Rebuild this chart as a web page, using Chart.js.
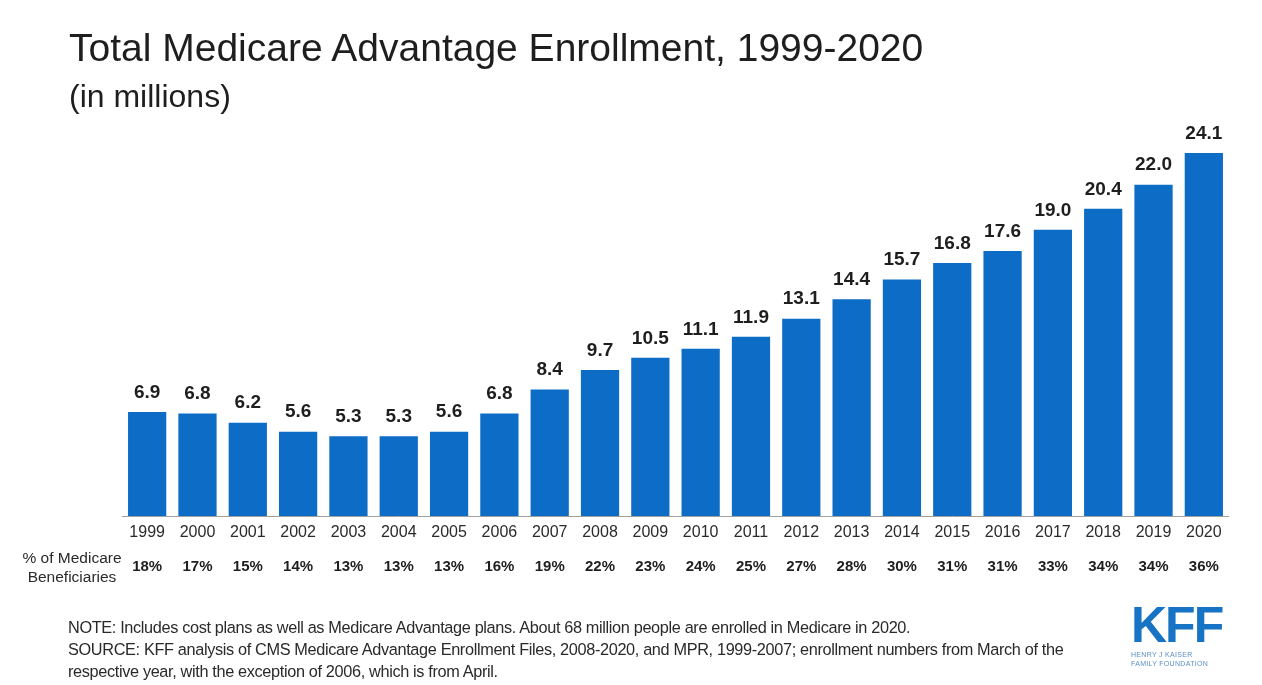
<!DOCTYPE html>
<html>
<head>
<meta charset="utf-8">
<script src="https://cdn.jsdelivr.net/npm/chart.js@4.4.1/dist/chart.umd.min.js"></script>
<style>
    html, body {
        margin: 0;
        padding: 0;
        background: #ffffff;
    }

    #wrap {
        position: relative;
        width: 1262px;
        height: 685px;
        overflow: hidden;
        font-family: "Liberation Sans", Arial, sans-serif;
        color: #1e1e1e;
    }

    #chart {
        position: absolute;
        left: 0;
        top: 0;
    }

    .title {
        position: absolute;
        left: 69px;
        top: 26px;
        font-size: 39px;
        white-space: nowrap;
    }

    .subtitle {
        position: absolute;
        left: 69px;
        top: 78px;
        font-size: 32px;
        white-space: nowrap;
    }

    .notes {
        position: absolute;
        left: 68px;
        top: 616px;
        font-size: 16.3px;
        line-height: 22px;
        color: #2a2a2a;
        letter-spacing: -0.35px;
    }

    .notes div {
        white-space: nowrap;
    }

    .logo {
        position: absolute;
        left: 1131px;
        top: 600px;
        color: #1773c4;
    }

    .logo .kff {
        font-size: 50px;
        font-weight: bold;
        letter-spacing: -2px;
        line-height: 50px;
    }

    .logo .small {
        font-size: 7px;
        line-height: 9px;
        color: #5b8fc4;
        letter-spacing: 0.3px;
    }
</style>
</head>
<body>
<div id="wrap">
    <canvas id="chart" width="1262" height="685"></canvas>

    <div class="title">Total Medicare Advantage Enrollment, 1999-2020</div>
    <div class="subtitle">(in millions)</div>

    <div class="notes">
        <div>NOTE: Includes  cost plans as well as Medicare Advantage plans. About 68 million people are enrolled in Medicare in 2020.</div>
        <div>SOURCE: KFF analysis of CMS Medicare Advantage Enrollment Files, 2008-2020, and MPR, 1999-2007; enrollment numbers from March of the</div>
        <div>respective year, with the exception of 2006, which is from April.</div>
    </div>

    <div class="logo">
        <div class="kff">KFF</div>
        <div class="small">HENRY J KAISER<br>FAMILY FOUNDATION</div>
    </div>
</div>

<script>
const anos = [
    "1999", "2000", "2001", "2002", "2003", "2004", "2005", "2006",
    "2007", "2008", "2009", "2010", "2011", "2012", "2013", "2014",
    "2015", "2016", "2017", "2018", "2019", "2020"
];

const inscritos = [
    6.9, 6.8, 6.2, 5.6, 5.3, 5.3, 5.6, 6.8,
    8.4, 9.7, 10.5, 11.1, 11.9, 13.1, 14.4, 15.7,
    16.8, 17.6, 19.0, 20.4, 22.0, 24.1
];

const percentuais = [
    18, 17, 15, 14, 13, 13, 13, 16,
    19, 22, 23, 24, 25, 27, 28, 30,
    31, 31, 33, 34, 34, 36
];

const rotuloPercentual = ["% of Medicare", "Beneficiaries"];

// desenha valores, linha de base e a linha de percentuais
const extras = {
    id: "extras",
    afterDatasetsDraw(chart) {
        const ctx = chart.ctx;
        const area = chart.chartArea;
        const x = chart.scales.x;
        const meta = chart.getDatasetMeta(0);

        ctx.save();

        ctx.strokeStyle = "#a0a0a0";
        ctx.lineWidth = 1;
        ctx.beginPath();
        ctx.moveTo(area.left, area.bottom + 0.5);
        ctx.lineTo(area.right, area.bottom + 0.5);
        ctx.stroke();

        ctx.fillStyle = "#1e1e1e";
        ctx.font = "bold 19px 'Liberation Sans', Arial, sans-serif";
        ctx.textAlign = "center";
        ctx.textBaseline = "bottom";

        meta.data.forEach((bar, i) => {
            ctx.fillText(inscritos[i].toFixed(1), bar.x, bar.y - 10);
        });

        ctx.font = "bold 15px 'Liberation Sans', Arial, sans-serif";
        ctx.textBaseline = "middle";

        percentuais.forEach((p, i) => {
            ctx.fillText(p + "%", x.getPixelForValue(i), 567);
        });

        ctx.font = "15.5px 'Liberation Sans', Arial, sans-serif";
        ctx.fillStyle = "#2a2a2a";
        ctx.fillText(rotuloPercentual[0], 72, 559);
        ctx.fillText(rotuloPercentual[1], 72, 578);

        ctx.restore();
    }
};

const ctx = document.getElementById("chart").getContext("2d");

const chart = new Chart(ctx, {
    type: "bar",
    data: {
        labels: anos,
        datasets: [
            {
                label: "Enrollment",
                data: inscritos,
                backgroundColor: "#0d6cc6",
                categoryPercentage: 1,
                barPercentage: 0.76
            }
        ]
    },
    options: {
        responsive: false,
        animation: false,
        layout: {
            padding: {
                left: 122,
                right: 33,
                top: 139.5,
                bottom: 0
            }
        },
        plugins: {
            legend: {
                display: false
            },
            tooltip: {
                enabled: false
            }
        },
        scales: {
            x: {
                grid: {
                    display: false,
                    drawTicks: false
                },
                border: {
                    display: false
                },
                ticks: {
                    color: "#2a2a2a",
                    padding: 7,
                    font: {
                        family: "'Liberation Sans', Arial, sans-serif",
                        size: 16
                    }
                },
                afterFit(scale) {
                    scale.height = 169;
                }
            },
            y: {
                display: false,
                min: 0,
                max: 25
            }
        }
    },
    plugins: [extras]
});
</script>
</body>
</html>
